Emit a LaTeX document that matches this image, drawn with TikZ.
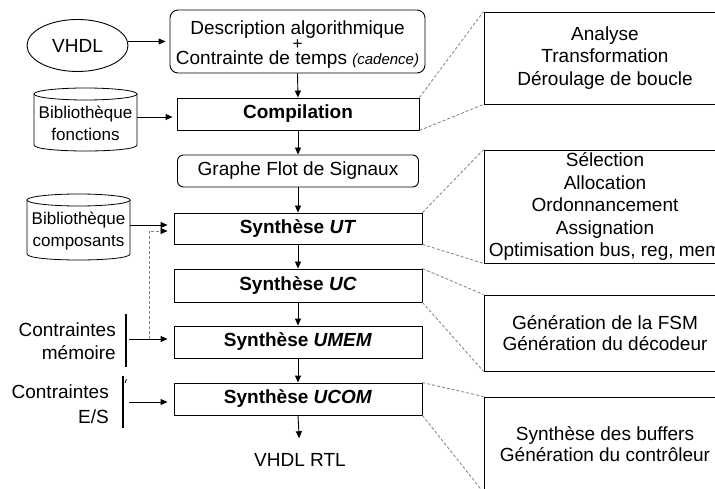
\documentclass[tikz,border=0pt]{standalone}
\usepackage{fontspec}
\setmainfont{Liberation Sans}
\usetikzlibrary{shapes.geometric,arrows.meta}
\begin{document}
\begin{tikzpicture}[x=1pt,y=-1pt,
  every node/.style={font=\fontsize{19}{22.5}\selectfont, inner sep=0pt},
  mbox/.style={draw, line width=0.9pt, minimum width=248pt, minimum height=32pt, font=\fontsize{19}{22.5}\selectfont\bfseries},
  rbox/.style={draw, line width=0.9pt, minimum width=242pt, align=center},
  arr/.style={-{Triangle[length=7pt,width=6pt]}, line width=0.9pt},
  dl/.style={draw=gray, dash pattern=on 3pt off 2pt, line width=0.8pt},
  bar/.style={line width=1.6pt},
]
\useasboundingbox (0,0) rectangle (715,489);
\fill[white] (0,0) rectangle (715,489);
\clip (0,0) rectangle (715,489);

% main flow
\node[ellipse, draw, line width=0.9pt, minimum width=101pt, minimum height=52pt] (vhdl) at (77.5,45.5) {VHDL};
\node[draw, rounded corners=8pt, line width=0.9pt, minimum width=255pt, minimum height=63pt, align=center] (desc) at (297.5,41.5)
  {\rule{0pt}{20pt}Description algorithmique\\[-7.5pt]{\fontsize{17}{20}\selectfont +}\\[-7.5pt]Contrainte de temps {\fontsize{15}{18}\selectfont\itshape (cadence)}};
\node[mbox, minimum width=242pt] (comp) at (298,114) {Compilation};
\node[draw, rounded corners=6pt, line width=0.9pt, minimum width=241pt, minimum height=32pt] (gfs) at (298,171) {Graphe Flot de Signaux};
\node[mbox, minimum height=31pt] (ut) at (298,228.5) {Synthèse \textit{UT}};
\node[mbox, minimum height=33pt] (uc) at (298,285.5) {Synthèse \textit{UC}};
\node[mbox] (umem) at (298,342) {Synthèse \textit{UMEM}};
\node[mbox] (ucom) at (298,399) {Synthèse \textit{UCOM}};
\node (rtl) at (300,460) {VHDL RTL};

% libraries (cylinders)
\node[minimum width=103pt, minimum height=57pt, align=center, font=\fontsize{17}{22}\selectfont] (lib1) at (85.5,123.5) {Bibliothèque\\fonctions};
\draw[line width=0.8pt] (85.5,94) ellipse [x radius=51.5pt, y radius=6pt];
\draw[line width=0.8pt] (34,94) -- (34,145) .. controls (34,153) and (137,153) .. (137,145) -- (137,94);
\node[minimum width=103pt, minimum height=60pt, align=center, font=\fontsize{17}{22}\selectfont] (lib2) at (78.5,231) {Bibliothèque\\composants};
\draw[line width=0.8pt] (78.5,200) ellipse [x radius=51.5pt, y radius=6pt];
\draw[line width=0.8pt] (27,200) -- (27,254) .. controls (27,262) and (130,262) .. (130,254) -- (130,200);

% constraints
\node[anchor=east, align=right, font=\fontsize{19}{23}\selectfont] (cm) at (116,341) {Contraintes\\mémoire};
\node[anchor=east, align=right, font=\fontsize{19}{25}\selectfont] (ces) at (109,404) {Contraintes\\E/S};
\draw[bar] (126,314) -- (126,367);
\draw[bar] (123,376) -- (123,428);
\draw[line width=0.8pt] (125,383) -- (126.5,379);
\coordinate (cmo) at (129,339);
\coordinate (ceso) at (129,402);
\coordinate (dj) at (149,339);

% arrows
\draw[arr, shorten >=4pt] (vhdl.east |- desc.west) -- (desc.west);
\draw[arr] (desc.south) -- (comp.north);
\draw[arr] (comp.south) -- (gfs.north);
\draw[arr] (gfs.south) -- (ut.north);
\draw[arr] (ut.south) -- (uc.north);
\draw[arr] (uc.south) -- (umem.north);
\draw[arr] (umem.south) -- (ucom.north);
\draw[arr, shorten >=15pt] (ucom.south) -- (rtl.north);
\draw[arr, shorten >=4pt] ([yshift=6.5pt]lib1.east) -- ([yshift=-3pt]comp.west);
\draw[arr, shorten >=6pt] ([yshift=6pt]lib2.east) -- ([yshift=3.5pt]ut.west);
\draw[arr, shorten >=6pt] (cmo) -- (umem.west |- cmo);
\draw[arr, shorten >=6pt] (ceso) -- (ucom.west |- ceso);
\draw[dl, -{Triangle[length=7pt,width=6pt,color=black]}, shorten >=6pt] (dj) |- ([yshift=-2.5pt]ut.west);

% right detail boxes
\node[rbox, minimum height=92pt] (r1) at (605,58) {Analyse\\Transformation\\Déroulage de boucle};
\node[rbox, minimum height=113pt] (r2) at (605,206.5) {Sélection\\Allocation\\Ordonnancement\\Assignation\\Optimisation bus, reg, mem};
\node[rbox, minimum height=76pt, font=\fontsize{19}{21}\selectfont] (r3) at (605,333) {Génération de la FSM\\Génération du décodeur};
\node[rbox, minimum height=95pt, font=\fontsize{19}{21}\selectfont] (r4) at (605,444.5) {Synthèse des buffers\\Génération du contrôleur};

\draw[dl] (comp.north east) -- (r1.north west);
\draw[dl] (comp.south east) -- (r1.south west);
\draw[dl] (ut.north east) -- (r2.north west);
\draw[dl] (ut.south east) -- (r2.south west);
\draw[dl] (uc.north east) -- (r3.north west);
\draw[dl] (uc.south east) -- (r3.south west);
\draw[dl] (ucom.north east) -- (r4.north west);
\draw[dl] (ucom.south east) -- (r4.south west);
\end{tikzpicture}
\end{document}
